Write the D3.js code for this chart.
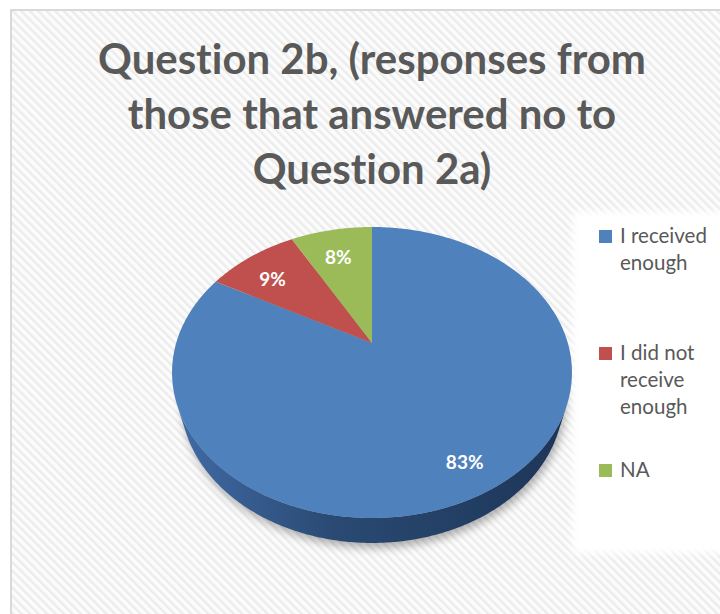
<!DOCTYPE html>
<html>
<head>
<meta charset="utf-8">
<script src="https://cdn.jsdelivr.net/npm/d3@7"></script>
<style>
  html, body { margin: 0; padding: 0; background: #ffffff; }
  svg { display: block; }
  svg text { font-variant-ligatures: none; font-feature-settings: "liga" 0, "clig" 0, "dlig" 0, "calt" 0; }
</style>
</head>
<body>
<svg id="chart" width="720" height="614"></svg>
<script>
// ---- data ----
const categories = ["I received enough", "I did not receive enough", "NA"];
const legendLines = [["I received", "enough"], ["I did not", "receive", "enough"], ["NA"]];
const values = [83, 9, 8];
const percentLabels = ["83%", "9%", "8%"];
const colors = ["#4f81bd", "#c0504d", "#9bbb59"];
const titleLines = ["Question 2b, (responses from", "those that answered no to", "Question 2a)"];

const W = 720, H = 614;
const svg = d3.select("#chart");
const defs = svg.append("defs");

// diagonal hatch used for the chart area fill
const hatch = defs.append("pattern")
  .attr("id", "hatch").attr("patternUnits", "userSpaceOnUse")
  .attr("width", 6).attr("height", 6)
  .attr("patternTransform", "rotate(-45)");
hatch.append("rect").attr("width", 6).attr("height", 6).attr("fill", "#fcfcfc");
hatch.append("rect").attr("width", 2.4).attr("height", 6).attr("fill", "#ececec");

const blur = defs.append("filter").attr("id", "soft")
  .attr("x", "-20%").attr("y", "-20%").attr("width", "140%").attr("height", "140%");
blur.append("feGaussianBlur").attr("stdDeviation", 4);

const panelBlur = defs.append("filter").attr("id", "panelSoft")
  .attr("x", "-10%").attr("y", "-10%").attr("width", "120%").attr("height", "120%");
panelBlur.append("feGaussianBlur").attr("stdDeviation", 3);

// chart area
svg.append("rect").attr("x", 11).attr("y", 10).attr("width", W).attr("height", H)
  .attr("fill", "url(#hatch)").attr("stroke", "#d9d9d9").attr("stroke-width", 2);

// legend panel
svg.append("rect").attr("x", 573).attr("y", 212).attr("width", 160).attr("height", 341)
  .attr("fill", "#ffffff").attr("filter", "url(#panelSoft)");

// ---- title ----
const fontFamily = "Lato, 'Open Sans', sans-serif";
const noLig = "font-variant-ligatures: none; font-feature-settings: 'liga' 0, 'clig' 0, 'dlig' 0";
const title = svg.append("g").attr("fill", "#595959")
  .attr("font-family", fontFamily).attr("font-weight", 700).attr("text-anchor", "middle");
const titleText = title.selectAll("text").data(titleLines).join("text")
  .attr("style", noLig)
  .attr("x", 372).attr("y", (d, i) => 74 + i * 55)
  .attr("font-size", 40).text(d => d);
// size the title so its first line spans the header width
{
  const w = titleText.node().getComputedTextLength();
  titleText.attr("font-size", 40 * 548 / w);
}

// ---- perspective pie ----
const cx = 372, cy = 343;
const sinA = 0.7125, cosA = 0.7017;   // tilt of the pie plane
const D = 3.462, F = 677.9;           // camera distance and focal length (radius = 1)
const depth = 0.207;                  // thickness of the pie
function project(theta, r, yUp) {
  const X = r * Math.sin(theta), Z = r * Math.cos(theta), Y = yUp || 0;
  const yc = Y * cosA + Z * sinA;
  const zc = D + Z * cosA - Y * sinA;
  return [cx + F * X / zc, cy - F * yc / zc];
}
function arcPoints(a0, a1, r, yUp) {
  const n = Math.max(2, Math.ceil(Math.abs(a1 - a0) / 0.01));
  return d3.range(n + 1).map(i => project(a0 + (a1 - a0) * i / n, r, yUp));
}
const line = d3.line();

const pie = d3.pie().sort(null).value(d => d);
const arcs = pie(values);

// shadow under the pie
svg.append("path")
  .attr("d", line(arcPoints(0, 2 * Math.PI, 1, -depth)) + "Z")
  .attr("transform", "translate(2,5)")
  .attr("fill", "#000").attr("fill-opacity", 0.3)
  .attr("filter", "url(#soft)");

// outer wall: visible where it faces the camera
const grad = defs.append("linearGradient").attr("id", "wall")
  .attr("gradientUnits", "userSpaceOnUse")
  .attr("x1", cx - 200).attr("x2", cx + 200).attr("y1", 0).attr("y2", 0);
grad.append("stop").attr("offset", "0%").attr("stop-color", "#416ca7");
grad.append("stop").attr("offset", "40%").attr("stop-color", "#2a4a73");
grad.append("stop").attr("offset", "100%").attr("stop-color", "#1d3557");

const ts = Math.acos(-1 / (D * cosA));
const wallTop = arcPoints(ts, 2 * Math.PI - ts, 1, 0);
const wallBottom = arcPoints(2 * Math.PI - ts, ts, 1, -depth);
svg.append("path")
  .attr("d", line(wallTop.concat(wallBottom)) + "Z")
  .attr("fill", "url(#wall)");

// top faces
svg.append("g").selectAll("path").data(arcs).join("path")
  .attr("d", d => line([project(0, 0)].concat(arcPoints(d.startAngle, d.endAngle, 1, 0))) + "Z")
  .attr("fill", (d, i) => colors[i]);

// value labels
svg.append("g").attr("font-family", fontFamily).attr("font-weight", 700)
  .attr("font-size", 19).attr("fill", "#ffffff").attr("text-anchor", "middle")
  .selectAll("text").data(arcs).join("text")
  .attr("x", d => project((d.startAngle + d.endAngle) / 2, 0.8, 0)[0])
  .attr("y", d => project((d.startAngle + d.endAngle) / 2, 0.8, 0)[1] + 14)
  .text((d, i) => percentLabels[i]);

// ---- legend ----
const legendTop = [243, 360, 477];
const lg = svg.append("g").attr("font-family", fontFamily).attr("fill", "#595959");
categories.forEach((c, i) => {
  lg.append("rect").attr("x", 599).attr("y", legendTop[i] - 13)
    .attr("width", 13).attr("height", 13).attr("fill", colors[i]);
});
const legendTexts = [];
legendLines.forEach((lines, i) => {
  lines.forEach((t, j) => {
    legendTexts.push(lg.append("text").attr("x", 620).attr("y", legendTop[i] + j * 27)
      .attr("font-size", 20).text(t));
  });
});
// fit legend text size to its column width
{
  const w = legendTexts[0].node().getComputedTextLength();
  const fs = 20 * 87 / w;
  legendTexts.forEach(t => t.attr("font-size", fs));
}
</script>
</body>
</html>
